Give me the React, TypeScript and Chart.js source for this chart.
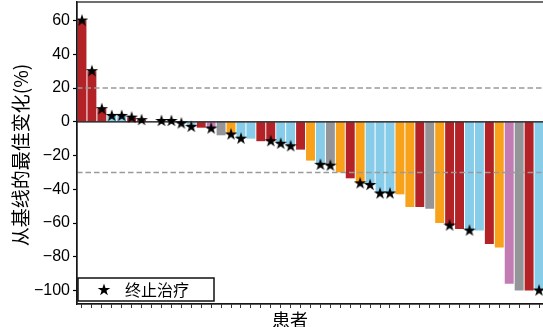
import { useEffect, useRef } from 'react';
import { Chart, registerables } from 'chart.js';

Chart.register(...registerables);

// Best percentage change from baseline, one bar per patient (waterfall order)
const patients = [
  'P01', 'P02', 'P03', 'P04', 'P05', 'P06', 'P07', 'P08', 'P09', 'P10',
  'P11', 'P12', 'P13', 'P14', 'P15', 'P16', 'P17', 'P18', 'P19', 'P20',
  'P21', 'P22', 'P23', 'P24', 'P25', 'P26', 'P27', 'P28', 'P29', 'P30',
  'P31', 'P32', 'P33', 'P34', 'P35', 'P36', 'P37', 'P38', 'P39', 'P40',
  'P41', 'P42', 'P43', 'P44', 'P45', 'P46', 'P47',
];

const bestChange = [
  60, 30, 7.5, 3.5, 3.5, 2.5, 1, 0, 0.5, 0.5,
  -1, -3, -3.5, -4, -8, -7.5, -10, -10, -11.5, -11.5,
  -13, -14.5, -16.5, -23, -25.5, -26, -30, -33.5, -36.5, -37.5,
  -42.5, -42.5, -43, -50.5, -50.5, -51.5, -60, -61.5, -63.5, -64.5,
  -64.5, -72.5, -74.5, -96, -100, -100, -100,
];

// Subgroup of each patient (bar colour)
const subgroup = [
  'R', 'R', 'R', 'B', 'B', 'R', 'R', 'B', 'R', 'B',
  'B', 'B', 'R', 'P', 'G', 'O', 'B', 'B', 'R', 'R',
  'B', 'B', 'R', 'O', 'B', 'G', 'O', 'R', 'O', 'B',
  'B', 'B', 'O', 'O', 'R', 'G', 'O', 'R', 'R', 'B',
  'B', 'R', 'O', 'P', 'G', 'R', 'B',
];

// 1 = treatment discontinued (marked with a star)
const discontinued = [
  1, 1, 1, 1, 1, 1, 1, 0, 1, 1,
  1, 1, 0, 1, 0, 1, 1, 0, 0, 1,
  1, 1, 0, 0, 1, 1, 0, 0, 1, 1,
  1, 1, 0, 0, 0, 0, 0, 1, 0, 1,
  0, 0, 0, 0, 0, 0, 1,
];

const yTicks = [-100, -80, -60, -40, -20, 0, 20, 40, 60];
const thresholdLines = [20, -30];

const palette: Record<string, string> = {
  R: '#B22226',
  B: '#87CDEA',
  O: '#F8A21C',
  G: '#939598',
  P: '#C37BB3',
};

const LATIN = '"Liberation Sans", Arial, sans-serif';
const CJK = '"Noto Sans CJK SC", "Noto Sans", sans-serif';

function makeStar(outer: number): HTMLCanvasElement {
  const size = Math.ceil(outer) * 2 + 2;
  const c = document.createElement('canvas');
  c.width = size;
  c.height = size;
  const ctx = c.getContext('2d')!;
  const cx = size / 2;
  const cy = size / 2;
  const inner = outer * 0.381966;
  ctx.beginPath();
  for (let k = 0; k < 10; k++) {
    const r = k % 2 === 0 ? outer : inner;
    const a = -Math.PI / 2 + (k * Math.PI) / 5;
    const px = cx + r * Math.cos(a);
    const py = cy + r * Math.sin(a);
    if (k === 0) ctx.moveTo(px, py);
    else ctx.lineTo(px, py);
  }
  ctx.closePath();
  ctx.fillStyle = '#000';
  ctx.fill();
  return c;
}

export default function App() {
  const canvasRef = useRef<HTMLCanvasElement | null>(null);

  useEffect(() => {
    const canvas = canvasRef.current;
    if (!canvas) return;
    const star = makeStar(6.6);

    const decorations = {
      id: 'decorations',
      afterDatasetDraw(chart: any, args: any) {
        if (args.meta.type !== 'bar') return;
        const { ctx, chartArea, scales } = chart;
        ctx.save();
        ctx.strokeStyle = '#9a9a9a';
        ctx.lineWidth = 1.5;
        ctx.setLineDash([5.5, 3]);
        for (const v of thresholdLines) {
          const y = scales.y.getPixelForValue(v);
          ctx.beginPath();
          ctx.moveTo(chartArea.left, y);
          ctx.lineTo(chartArea.right, y);
          ctx.stroke();
        }
        ctx.setLineDash([]);
        ctx.strokeStyle = '#000';
        ctx.lineWidth = 1.3;
        const y0 = scales.y.getPixelForValue(0);
        ctx.beginPath();
        ctx.moveTo(chartArea.left, y0);
        ctx.lineTo(chartArea.right, y0);
        ctx.stroke();
        ctx.restore();
      },
      afterDraw(chart: any) {
        const { ctx, chartArea } = chart;
        ctx.save();
        // frame
        ctx.strokeStyle = '#222';
        ctx.lineWidth = 1.3;
        ctx.strokeRect(chartArea.left, chartArea.top, chartArea.right - chartArea.left, chartArea.bottom - chartArea.top);

        // axis titles
        ctx.fillStyle = '#000';
        ctx.font = `18px ${CJK}`;
        ctx.textAlign = 'center';
        ctx.textBaseline = 'middle';
        ctx.fillText('患者', 290, 320);

        ctx.save();
        ctx.translate(21, 155);
        ctx.rotate(-Math.PI / 2);
        ctx.font = `19px ${CJK}`;
        ctx.fillText('从基线的最佳变化(%)', 0, 0);
        ctx.restore();

        // legend
        const lx = 78;
        const ly = 278;
        const lw = 136;
        const lh = 23;
        ctx.fillStyle = '#fff';
        ctx.fillRect(lx, ly, lw, lh);
        ctx.strokeStyle = '#111';
        ctx.lineWidth = 1.5;
        ctx.strokeRect(lx, ly, lw, lh);
        ctx.drawImage(star, 104 - star.width / 2, 290 - star.height / 2);
        ctx.fillStyle = '#000';
        ctx.font = `16px ${CJK}`;
        ctx.textAlign = 'left';
        ctx.textBaseline = 'middle';
        ctx.fillText('终止治疗', 125, 290);
        ctx.restore();
      },
    };

    const chart = new Chart(canvas, {
      type: 'bar',
      data: {
        labels: patients,
        datasets: [
          {
            type: 'line',
            label: '终止治疗',
            data: bestChange.map((v, i) => (discontinued[i] ? v : null)),
            showLine: false,
            pointStyle: star as any,
            pointRadius: 6,
            order: 0,
          } as any,
          {
            type: 'bar',
            label: 'best change',
            data: bestChange,
            backgroundColor: subgroup.map((g) => palette[g]),
            borderWidth: 0,
            barPercentage: 0.9,
            categoryPercentage: 1,
            order: 1,
          },
        ],
      },
      options: {
        responsive: false,
        animation: false,
        events: [],
        layout: { autoPadding: false, padding: { top: 2, right: 16, left: 0, bottom: 0 } },
        plugins: {
          legend: { display: false },
          tooltip: { enabled: false },
          title: { display: false },
        },
        scales: {
          x: {
            type: 'category',
            offset: true,
            grid: {
              display: true,
              drawOnChartArea: false,
              drawTicks: true,
              tickLength: 4,
              tickColor: '#333',
              tickWidth: 1,
              offset: false,
            },
            border: { display: true, color: '#000', width: 1.3 },
            ticks: { display: false, autoSkip: false },
            afterFit: (s: any) => {
              s.height = 23;
              s.paddingLeft = 0;
              s.paddingRight = 0;
            },
          },
          y: {
            type: 'linear',
            min: -108,
            max: 71,
            afterBuildTicks: (s: any) => {
              s.ticks = yTicks.map((v) => ({ value: v }));
            },
            grid: {
              display: true,
              drawOnChartArea: false,
              drawTicks: true,
              tickLength: 4,
              tickColor: '#000',
              tickWidth: 1.2,
            },
            border: { display: true, color: '#000', width: 1.3 },
            ticks: {
              color: '#000',
              padding: 3,
              font: { family: LATIN, size: 16 },
              callback: (v: any) => String(v).replace('-', '\u2212'),
            },
            afterFit: (s: any) => {
              s.width = 77;
              s.paddingTop = 0;
              s.paddingBottom = 0;
            },
          },
        },
      },
      plugins: [decorations],
    });

    return () => chart.destroy();
  }, []);

  return (
    <div
      style={{
        position: 'fixed',
        left: 0,
        top: 0,
        width: 543,
        height: 327,
        overflow: 'hidden',
        background: '#fff',
      }}
    >
      <canvas ref={canvasRef} width={560} height={327} style={{ display: 'block' }} />
    </div>
  );
}
